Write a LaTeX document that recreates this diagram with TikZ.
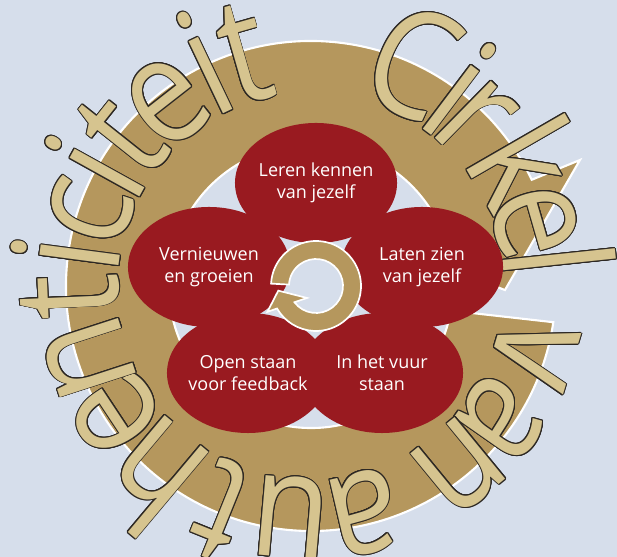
\documentclass[tikz,border=0pt]{standalone}
\usepackage{fontspec}
\usepackage{contour}
\usetikzlibrary{positioning}
\usetikzlibrary{shapes.geometric}
\usetikzlibrary{calc}
\newfontfamily\cirkelfont{Open Sans}
\definecolor{sky}{RGB}{214,222,235}
\definecolor{ringtan}{RGB}{181,151,93}
\definecolor{lettertan}{RGB}{214,196,143}
\definecolor{petalred}{RGB}{153,26,32}
\definecolor{letterline}{RGB}{45,40,35}
\contourlength{0.75pt}

\begin{document}
\begin{tikzpicture}
[x=0.025cm,y=0.025cm,
petal/.style={shape=ellipse,fill=petalred,minimum width=4.05cm,
  minimum height=3cm,inner sep=0pt},
petaltext/.style={text=white,align=center,
  font=\cirkelfont\fontsize{12.8}{16}\selectfont},
bigletter/.style={text=lettertan,anchor=base,inner sep=0pt,
  font=\cirkelfont\fontsize{106}{106}\selectfont},
band/.style={fill=ringtan,draw=white,line width=1.5pt,line join=miter}]

\useasboundingbox (0,0) rectangle (617,557);
\clip (0,0) rectangle (617,557);
\fill [sky] (0,0) rectangle (617,557);

\coordinate (O) at (311,271);
\coordinate (P) at (316,271);

% big arrow round the flower
\draw [band] ($(O)+(-10:142)$) -- ($(O)+(-8.5:245)$)
    arc [start angle=-8.5, end angle=-334.3, radius=245]
    -- ($(O)+(25.1:297)$) -- ($(O)+(-1.2:194)$) -- ($(O)+(25.5:91)$)
    -- ($(O)+(25.7:142)$)
    arc [start angle=-334.3, end angle=-10, radius=142] -- cycle;

% title round the ring
\foreach \ch/\a [count=\n] in {C/65.5, i/53, r/45.5, k/30, e/16, l/6,
    v/-16.7, a/-35, n/-50.6,
    a/-77, u/-95, t/-112, h/-130, e/-146.5, n/-162, t/-177.5,
    i/-187.5, c/-198.5, i/-209, t/-218.5, e/-232, i/-244.5, t/-254}
  \node [bigletter,rotate=\a-90,xscale=0.86] (ch\n) at ($(O)+(\a:193)$)
        {\contour{letterline}{\ch}};

% flower
\node [petal] (know)  at (316,374) {};
\node [petal] (renew) at (209,290) {};
\node [petal] (show)  at (422,290) {};
\node [petal] (open)  at (248,184) {};
\node [petal] (fire)  at (382,184) {};

\node [petaltext] (knowtext)  at (know)  {Leren kennen\\van jezelf};
\node [petaltext] (renewtext) at (renew) {Vernieuwen\\en groeien};
\node [petaltext] (showtext)  at (show)  {Laten zien\\van jezelf};
\node [petaltext] (opentext)  at (open)  {Open staan\\voor feedback};
\node [petaltext] (firetext)  at (fire)  {In het vuur\\staan};

% small arrow in the middle
\draw [band,line width=1.2pt] ($(P)+(177:27)$) -- ($(P)+(177:45)$)
    arc [start angle=177, end angle=-150, radius=45]
    -- ($(P)+(208:55)$) -- ($(P)+(187:38)$) -- ($(P)+(233:15)$)
    -- ($(P)+(217:27)$)
    arc [start angle=-143, end angle=177, radius=27] -- cycle;
\end{tikzpicture}
\end{document}
